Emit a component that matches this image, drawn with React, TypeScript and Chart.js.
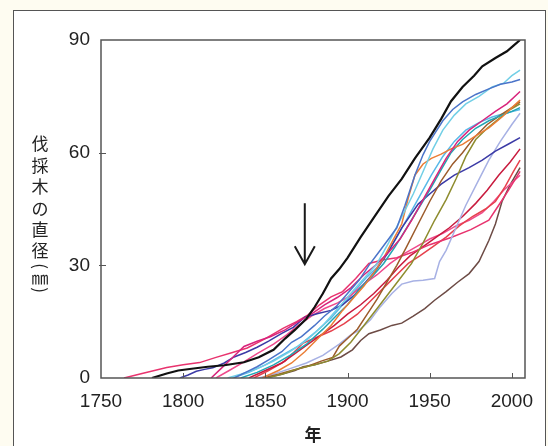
import React, { useEffect, useRef } from 'react';
import { Chart, registerables } from 'chart.js';

Chart.register(...registerables);

type Pt = [number, number];

const xTicks = [1750, 1800, 1850, 1900, 1950, 2000];
const yTicks = [0, 30, 60, 90];
const xMin = 1750;
const xMax = 2008;
const yMin = 0;
const yMax = 90;
const xTitle = '年';
const yTitleChars = ['伐', '採', '木', 'の', '直', '径', '（', '㎜', '）'];
const arrowYear = 1874;
const arrowFrom = 46.5;
const arrowTo = 30.3;

const black: Pt[] = [[1781,0],[1790,1.2],[1797,2],[1804,2.4],[1815,3],[1825,3.4],[1837,4.2],[1846,5.5],[1855,7.5],[1862,10.5],[1868,12.8],[1875,15.8],[1880,18.9],[1885,22.5],[1890,26.5],[1895,29],[1900,32],[1908,37.5],[1916,42.7],[1925,48.5],[1933,53],[1941,58.5],[1950,64],[1957,69],[1963,73.7],[1970,77.5],[1977,80.5],[1982,83],[1990,85.2],[1997,87],[2001,88.5],[2005,90]];
const steelBlue: Pt[] = [[1831,0],[1838,1.5],[1845,3],[1852,4.8],[1860,7],[1866,9.5],[1872,11],[1880,14],[1886,16.5],[1893,19],[1900,22.5],[1907,26],[1913,30],[1919,33.5],[1925,37],[1930,40],[1935,46],[1941,54],[1946,59.5],[1950,63],[1958,68.5],[1964,71.5],[1970,73.5],[1978,75.5],[1986,77],[1993,78.2],[2000,78.8],[2005,79.5]];
const lightCyan: Pt[] = [[1827,0],[1835,1],[1845,2.5],[1855,4.5],[1865,7],[1875,10],[1885,14],[1895,19],[1905,24],[1912,27.5],[1918,30.5],[1925,36],[1932,42],[1940,49],[1946,55],[1952,61],[1958,66],[1965,70],[1972,73],[1980,75],[1988,77.5],[1995,78.5],[2000,80.5],[2005,82]];
const magenta: Pt[] = [[1817,0],[1823,2.5],[1829,5],[1837,8.4],[1845,9.8],[1853,11],[1862,12.8],[1870,15],[1878,17],[1886,19.5],[1894,21.5],[1902,24],[1910,27.5],[1917,30],[1925,33.5],[1932,37],[1939,42],[1946,47.5],[1953,53],[1960,58.5],[1967,63],[1974,66],[1982,68.5],[1990,71],[1997,73],[2005,76.3]];
const orange: Pt[] = [[1848,0],[1858,2],[1866,4],[1874,7],[1882,10.5],[1890,14],[1897,18],[1904,21.5],[1910,24.5],[1916,28],[1922,32],[1928,37],[1933,41],[1937,48],[1941,54],[1946,57],[1951,58.5],[1957,59.6],[1963,61],[1970,62.2],[1978,64.5],[1986,66.6],[1994,69.5],[2002,72.8],[2005,74]];
const teal: Pt[] = [[1835,0],[1845,1.5],[1855,3.5],[1865,6],[1875,9],[1885,13],[1893,16.5],[1900,19.5],[1908,24],[1915,27],[1922,30.5],[1929,35],[1936,40],[1943,45],[1950,50],[1957,55.5],[1963,60],[1970,63.5],[1978,66.5],[1986,68.5],[1994,70],[2000,71],[2005,72]];
const olive: Pt[] = [[1851,0],[1860,1],[1870,2.5],[1880,3.5],[1888,4.5],[1895,6.5],[1902,9.5],[1910,14],[1918,18.5],[1925,22.5],[1932,26.5],[1939,30.5],[1946,36],[1953,42],[1960,47.5],[1966,53],[1972,59],[1978,63.5],[1985,66.5],[1992,69],[1999,71.5],[2005,73]];
const brown: Pt[] = [[1849,0],[1858,1],[1866,2],[1875,3],[1884,4.5],[1891,5.5],[1895,8.5],[1900,10.5],[1906,13],[1912,17],[1918,21],[1924,25.5],[1930,30],[1936,35],[1943,41],[1950,47],[1957,52.5],[1964,57],[1970,60],[1977,64],[1985,67.5],[1993,70],[2000,72],[2005,73.5]];
const navy: Pt[] = [[1798,0],[1803,0.8],[1808,1.8],[1813,2.3],[1818,2.7],[1825,4],[1831,5.6],[1838,6.8],[1845,8.2],[1852,9.8],[1860,11.9],[1867,13.5],[1874,16.2],[1882,17.2],[1890,18],[1897,19.5],[1904,22],[1911,25.5],[1917,28.5],[1924,33],[1933,40],[1943,46.3],[1950,49],[1957,51.6],[1965,54],[1974,56],[1982,58],[1990,60.4],[1998,62.3],[2005,64]];
const lavender: Pt[] = [[1846,0],[1855,1],[1865,2.5],[1875,4],[1885,6],[1895,9],[1902,11.5],[1907,12.7],[1914,15.5],[1920,19],[1927,22.5],[1933,25],[1940,25.8],[1946,26],[1953,26.5],[1956,31],[1960,34],[1966,40],[1972,46],[1979,52],[1986,58],[1993,63],[2000,67.5],[2005,70.5]];
const pinkEarly: Pt[] = [[1764,0],[1775,1.2],[1790,2.8],[1800,3.5],[1810,4.1],[1820,5.5],[1830,6.8],[1839,8],[1850,10.5],[1861,13.3],[1869,15],[1876,16.8],[1883,19.5],[1890,21.6],[1897,23],[1905,26.5],[1913,30.5],[1922,31.5],[1930,32],[1939,33.4],[1950,35.5],[1963,37.4],[1975,39.5],[1986,42],[1992,46],[1998,50],[2005,55]];
const crimson: Pt[] = [[1840,0],[1850,2],[1860,4],[1868,6.5],[1876,9],[1884,11.5],[1892,14],[1900,17],[1908,19.5],[1916,22.5],[1924,26],[1931,29.5],[1938,32.5],[1946,35],[1954,37.5],[1962,40],[1970,43],[1978,46.5],[1985,50],[1992,54],[1999,57.5],[2005,61]];
const red: Pt[] = [[1843,0],[1852,2],[1862,4.5],[1873,9.3],[1882,11],[1890,12.5],[1898,14.5],[1906,17],[1914,20.5],[1922,24],[1930,27.5],[1937,30.5],[1944,32.5],[1952,35],[1960,37.5],[1968,40.5],[1976,43],[1984,45],[1990,47],[1996,51],[2001,55],[2005,58]];
const pinkLate: Pt[] = [[1820,0],[1828,2],[1836,4],[1845,6.5],[1855,9],[1863,11.5],[1870,14],[1878,16.5],[1886,18.5],[1894,20],[1902,22],[1910,25],[1918,27.5],[1926,30.5],[1934,33],[1942,35],[1950,37],[1958,38.5],[1966,40.5],[1974,42],[1982,44],[1989,47],[1995,50],[2000,52],[2005,54]];
const darkBrown: Pt[] = [[1850,0],[1860,1],[1868,2],[1873,3],[1880,3.5],[1888,4.5],[1896,5.6],[1903,7.5],[1908,10],[1913,11.8],[1920,12.8],[1927,14],[1933,14.6],[1940,16.5],[1947,18.5],[1953,20.7],[1960,23],[1967,25.5],[1974,27.8],[1980,31],[1986,36.6],[1990,41],[1994,47],[1999,51.5],[2005,56]];
const skyBlue: Pt[] = [[1830,0],[1840,1.5],[1850,3.5],[1860,6],[1870,8.5],[1880,12],[1890,16],[1898,20],[1905,23.5],[1912,27],[1918,29.5],[1924,33],[1930,37.5],[1937,43],[1944,48.5],[1951,54],[1958,59],[1965,63],[1972,66],[1980,68],[1988,69.5],[1996,70.5],[2005,71.5]];

const seriesData: Pt[][] = [black, steelBlue, lightCyan, magenta, orange, teal, olive, brown, navy, lavender, pinkEarly, crimson, red, pinkLate, darkBrown, skyBlue];
const seriesColors = ['#111111', '#4b74c9', '#72cfe6', '#d8247c', '#ea7d35', '#21a5b3', '#8e8c2e', '#9c5b2b', '#3b3aa6', '#a7b1e4', '#e8336e', '#c81b3e', '#e6404c', '#ef4a8c', '#6d4b45', '#58b8e8'];

const TICK_FONT = 'Liberation Sans, Arial, Helvetica, sans-serif';
const CJK_FONT = '"Noto Sans CJK JP", "Noto Sans CJK SC", sans-serif';

const decorPlugin = {
  id: 'decor',
  afterDatasetsDraw(chart: any) {
    const { ctx, chartArea: a, scales } = chart;
    const xs = scales.x;
    const ys = scales.y;
    ctx.save();
    // inward ticks
    ctx.strokeStyle = '#555';
    ctx.lineWidth = 1;
    yTicks.forEach((v) => {
      if (v === yMin || v === yMax) return;
      const py = Math.round(ys.getPixelForValue(v)) + 0.5;
      ctx.beginPath();
      ctx.moveTo(a.left - 2, py);
      ctx.lineTo(a.left + 5, py);
      ctx.stroke();
    });
    xTicks.forEach((v) => {
      if (v === xMin) return;
      const px = Math.round(xs.getPixelForValue(v)) + 0.5;
      ctx.beginPath();
      ctx.moveTo(px, a.bottom);
      ctx.lineTo(px, a.bottom - 5);
      ctx.stroke();
    });
    // frame
    ctx.strokeStyle = '#555';
    ctx.lineWidth = 1.5;
    ctx.strokeRect(a.left, a.top, a.right - a.left, a.bottom - a.top);
    // arrow
    const ax = xs.getPixelForValue(arrowYear);
    const ay0 = ys.getPixelForValue(arrowFrom);
    const ay1 = ys.getPixelForValue(arrowTo);
    ctx.strokeStyle = '#1a1a1a';
    ctx.lineWidth = 2;
    ctx.beginPath();
    ctx.moveTo(ax, ay0);
    ctx.lineTo(ax, ay1);
    ctx.moveTo(ax - 10, ay1 - 18);
    ctx.lineTo(ax, ay1);
    ctx.lineTo(ax + 10, ay1 - 18);
    ctx.stroke();
    // x title
    ctx.fillStyle = '#222';
    ctx.font = `bold 17px ${CJK_FONT}`;
    ctx.textAlign = 'center';
    ctx.textBaseline = 'middle';
    ctx.fillText(xTitle, (a.left + a.right) / 2, 435);
    // y title (vertical, upright characters)
    const cx = 40;
    const centers = [144, 165.5, 187, 208.5, 230, 250.5, 266, 278, 290];
    ctx.font = `17px ${CJK_FONT}`;
    yTitleChars.forEach((ch, i) => {
      const cy = centers[i];
      if (ch === '（' || ch === '）') {
        ctx.save();
        ctx.translate(cx, cy);
        ctx.rotate(Math.PI / 2);
        ctx.fillText(ch === '（' ? '(' : ')', 0, 0);
        ctx.restore();
      } else {
        ctx.fillText(ch, cx, cy);
      }
    });
    ctx.restore();
  },
};

export default function App() {
  const ref = useRef<HTMLCanvasElement | null>(null);
  useEffect(() => {
    if (!ref.current) return;
    const chart = new Chart(ref.current, {
      type: 'line',
      data: {
        datasets: seriesData.map((pts, i) => ({
          data: pts.map(([x, y]) => ({ x, y })),
          borderColor: seriesColors[i],
          borderWidth: i === 0 ? 2.2 : 1.5,
          pointRadius: 0,
          tension: 0,
          fill: false,
        })),
      },
      options: {
        animation: false,
        responsive: false,
        maintainAspectRatio: false,
        events: [],
        layout: { autoPadding: false, padding: { left: 41, top: 40, right: 23, bottom: 28 } },
        plugins: { legend: { display: false }, tooltip: { enabled: false }, title: { display: false } },
        scales: {
          x: {
            type: 'linear',
            min: xMin,
            max: xMax,
            grid: { display: false, drawTicks: false },
            border: { display: false },
            afterFit: (s: any) => { s.height = 40; },
            afterBuildTicks: (s: any) => { s.ticks = xTicks.map((v) => ({ value: v })); },
            ticks: {
              padding: 12,
              color: '#222',
              font: { family: TICK_FONT, size: 19 },
              maxRotation: 0,
              autoSkip: false,
              callback: (v: any) => String(v),
            },
          },
          y: {
            type: 'linear',
            min: yMin,
            max: yMax,
            grid: { display: false, drawTicks: false },
            border: { display: false },
            afterFit: (s: any) => { s.width = 60; },
            afterBuildTicks: (s: any) => { s.ticks = yTicks.map((v) => ({ value: v })); },
            ticks: {
              padding: 11,
              color: '#222',
              font: { family: TICK_FONT, size: 19 },
              callback: (v: any) => String(v),
            },
          },
        },
      },
      plugins: [decorPlugin],
    });
    return () => chart.destroy();
  }, []);

  return (
    <div style={{ position: 'fixed', left: 0, top: 0, width: 548, height: 446, background: '#fefcf1', overflow: 'hidden' }}>
      <div style={{ position: 'absolute', left: 13, top: 10, width: 533, height: 480, boxSizing: 'border-box', border: '1.5px solid #555', background: '#ffffff' }} />
      <canvas ref={ref} width={548} height={446} style={{ position: 'absolute', left: 0, top: 0, width: 548, height: 446 }} />
    </div>
  );
}
